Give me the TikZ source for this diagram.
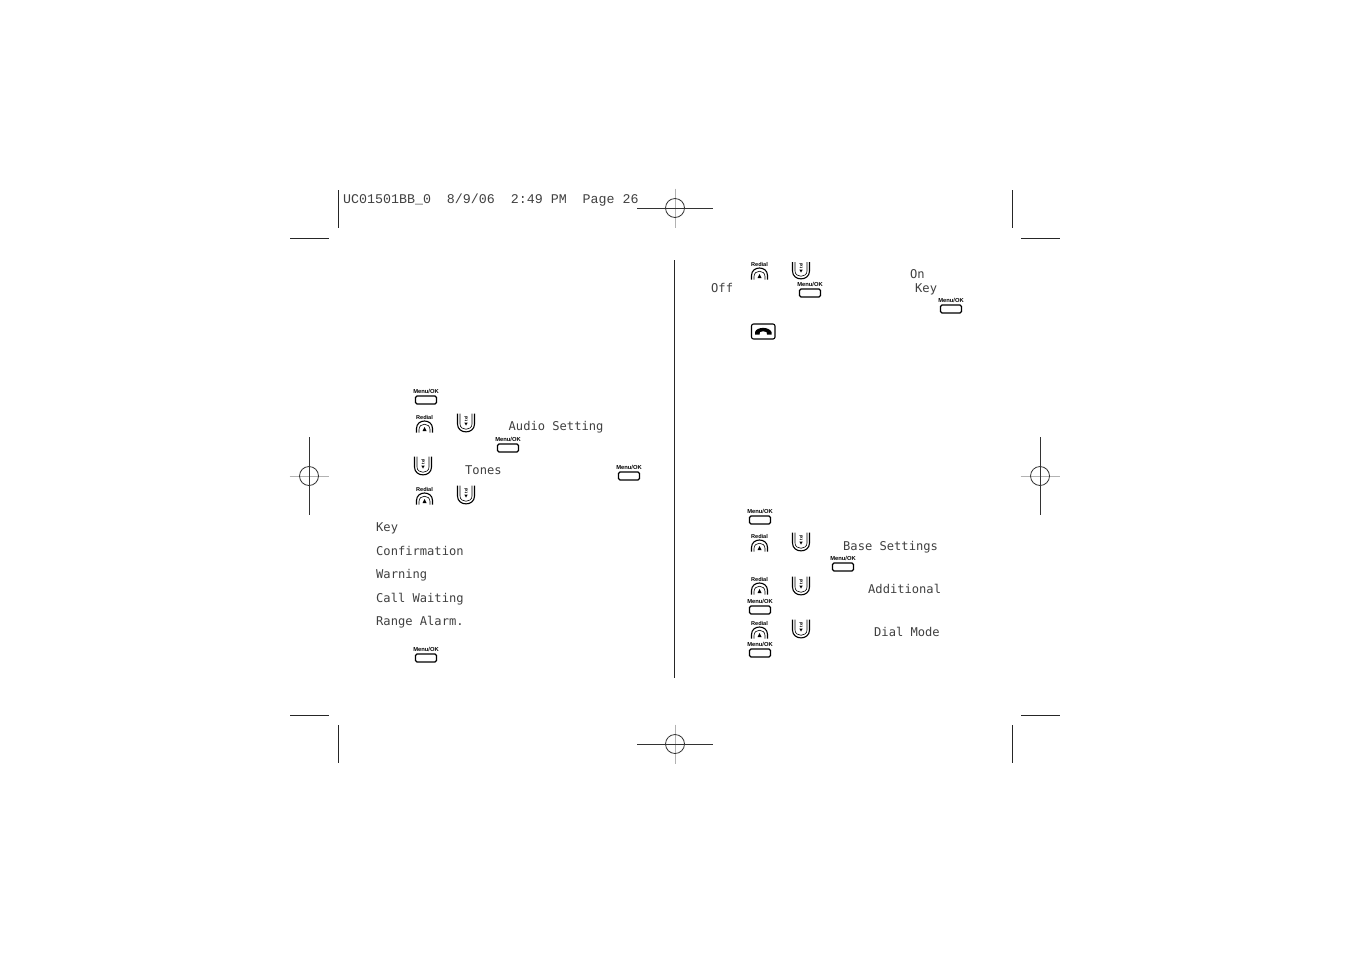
\documentclass[tikz,border=0pt]{standalone}
\usepackage{fontspec}
\setmainfont{Liberation Sans}
\newfontfamily\lcdfont{DejaVu Sans Mono}
\newfontfamily\hdrfont{Liberation Mono}
\tikzset{
 x=1pt,y=-1pt,
 lcd/.style={inner sep=0pt,anchor=base west,text=black!75,font=\lcdfont\fontsize{12.1}{12.1}\selectfont},
 hdr/.style={inner sep=0pt,anchor=base west,text=black!75,font=\hdrfont\fontsize{13.3}{13.3}\selectfont},
 keycap/.style={inner sep=0pt,font=\bfseries\fontsize{5.8}{5.8}\selectfont},
 cropmark/.style={line width=0.8pt,black!85},
 regline/.style={line width=0.8pt,black!80},
 regpale/.style={line width=1pt,black!30},
 pics/menukey/.style={code={
   \node[keycap] at (0,-9) {Menu/OK};
   \draw[line width=1.1pt,rounded corners=1.5pt] (-10.5,-4) rectangle (10.5,4);}},
 pics/redialkey/.style={code={
   \node[keycap,font=\bfseries\fontsize{5.6}{5.6}\selectfont] at (0,-6.5) {Redial};
   \draw[line width=1.1pt] (-8,9) -- (-8,5) .. controls (-8,-5) and (8,-5) .. (8,5) -- (8,9);
   \draw[line width=0.6pt] (-5.5,9) -- (-5.5,6) .. controls (-5.5,-1) and (5.5,-1) .. (5.5,6) -- (5.5,9);
   \fill (-2,7.5) -- (2,7.5) -- (0,3.5) -- cycle;}},
 pics/downkey/.style={code={
   \draw[line width=1.1pt] (-8.5,-18.5) -- (-8.5,-8) .. controls (-8.5,2.5) and (8.5,2.5) .. (8.5,-8) -- (8.5,-18.5);
   \draw[line width=0.6pt] (-6,-18.5) -- (-6,-8) .. controls (-6,-1) and (6,-1) .. (6,-8) -- (6,-18.5);
   \node[keycap,font=\bfseries\fontsize{4.4}{4.4}\selectfont] at (0,-13.5) {\rotatebox{90}{tel}};
   \fill (-1.7,-9.5) -- (1.7,-9.5) -- (0,-6.5) -- cycle;}},
 pics/crossV/.style={code={
   \draw[regpale] (-19.5,0) -- (19.5,0);
   \draw[regline] (0,-39) -- (0,39);
   \draw[regline] (0,0) circle (9.5);}},
 pics/crossH/.style={code={
   \draw[regpale] (0,-19.5) -- (0,19.5);
   \draw[regline] (-38,0) -- (38,0);
   \draw[regline] (0,0) circle (9.5);}},
}
\begin{document}
\begin{tikzpicture}
\useasboundingbox (0,0) rectangle (1351,954);
\fill[white] (0,0) rectangle (1351,954);
% crop marks
\draw[cropmark] (338,190) -- (338,228);
\draw[cropmark] (1012,190) -- (1012,228);
\draw[cropmark] (290,238) -- (329,238);
\draw[cropmark] (1021,238) -- (1060,238);
\draw[cropmark] (290,715) -- (329,715);
\draw[cropmark] (1021,715) -- (1060,715);
\draw[cropmark] (338,725) -- (338,763);
\draw[cropmark] (1012,725) -- (1012,763);
\draw[line width=1pt,black!85] (674.5,260) -- (674.5,678);
\pic at (675,208) {crossH};
\pic at (675,744) {crossH};
\pic at (309,476) {crossV};
\pic at (1040,476) {crossV};
% header
\node[hdr] (hd) at (343,203.5) {UC01501BB\_0\hspace{16pt}8/9/06\hspace{16pt}2:49\hspace{8pt}PM\hspace{16pt}Page 26};
% left texts
\node[lcd] (t1) at (508.5,430) {Audio Setting};
\node[lcd] (t2) at (465,474) {Tones};
\node[lcd] (t3) at (376,531) {Key};
\node[lcd] (t4) at (376,555) {Confirmation};
\node[lcd] (t5) at (376,578) {Warning};
\node[lcd] (t6) at (376,602) {Call Waiting};
\node[lcd] (t7) at (376,625) {Range Alarm.};
% right texts
\node[lcd] (t8) at (910,278) {On};
\node[lcd] (t9) at (711,292) {Off};
\node[lcd] (t10) at (915,292) {Key};
\node[lcd] (t11) at (843,550) {Base Settings};
\node[lcd] (t12) at (868,593) {Additional};
\node[lcd] (t13) at (874,636) {Dial Mode};
% menu keys
\foreach \p in {(426,400),(508,448),(629,476),(426,658),(810,293),(951,309),(760,520),(843,567),(760,610),(760,653)}
  \pic at \p {menukey};
% redial keys
\foreach \p in {(424.5,423.5),(424.5,495.5),(759.5,270.5),(759.5,542.5),(759.5,585.5),(759.5,629.5)}
  \pic at \p {redialkey};
% down keys
\foreach \p in {(466,432),(423,475),(466,504),(801,551),(801,595),(801,638)}
  \pic at \p {downkey};
\begin{scope}
 \clip (780,262) rectangle (820,290);
 \pic at (801,279) {downkey};
\end{scope}
% end-call key
\draw[line width=1.1pt,rounded corners=2pt] (751.5,324) rectangle (775,339);
\fill (755,332) .. controls (757,326.5) and (769,326.5) .. (771.5,332) -- (771.5,334.5) -- (767,334.5) -- (766.5,332) .. controls (764,331) and (762,331) .. (760,332) -- (759.5,334.5) -- (755,334.5) -- cycle;
\end{tikzpicture}
\end{document}
